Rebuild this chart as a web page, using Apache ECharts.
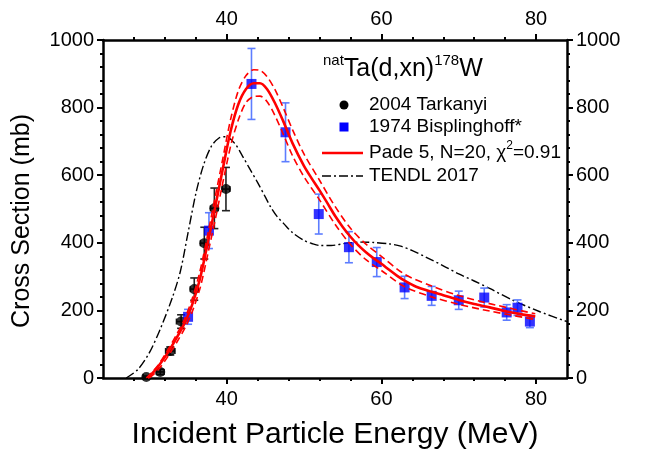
<!DOCTYPE html>
<html>
<head>
<meta charset="utf-8">
<script src="https://cdn.jsdelivr.net/npm/echarts@6/dist/echarts.min.js"></script>
<style>
html, body { margin: 0; padding: 0; background: #fff; }
#chart { width: 646px; height: 455px; }
</style>
</head>
<body>
<div id="chart"></div>
<script>
// values
const tarkX = [29.6, 31.4, 32.7, 34.1, 35.8, 37.1, 38.4, 39.9]
const tarkY = [3, 18, 80, 167, 263, 399, 502, 559]
const tarkErr = [3, 8, 12, 20, 33, 47, 60, 64]
const tarkXErr = [0.4, 0.5, 0.6, 0.6, 0.5, 0.5, 0.5, 0.5]

const bispX = [35.0, 37.7, 43.2, 47.6, 51.9, 55.8, 59.4, 63.0, 66.5, 70.0, 73.3, 76.2, 77.6, 79.2]
const bispY = [181, 436, 870, 727, 485, 387, 343, 268, 243, 230, 238, 194, 208, 167]
const bispErr = [22, 53, 105, 87, 59, 46, 43, 33, 28, 27, 28, 23, 23, 18]

// Pade fit and its uncertainty band
const fitX = [29.8, 31.0, 32.3, 33.5, 34.5, 35.5, 36.5, 37.5, 38.5, 39.5, 40.5, 41.5, 42.5, 43.5, 44.3, 45.2, 46.2, 47.3, 48.5, 50, 51, 52, 53, 54, 55, 56, 57, 58, 59, 60, 61, 62, 63, 64.5, 66.5, 68, 70, 72, 74, 76.2, 78, 79.9]
const fitY = [0, 30, 72, 118, 160, 215, 290, 395, 505, 620, 730, 810, 855, 872, 872, 855, 815, 760, 695, 627, 590, 555, 518, 480, 447, 418, 393, 372, 354, 338, 320, 303, 288, 270, 255, 245, 231, 219, 209, 197, 189, 182]

const upX = [29.6, 31, 32.3, 33.5, 34.5, 35.5, 36.5, 37.5, 38.5, 39.5, 40.5, 41.5, 42.5, 43.5, 44.3, 45.2, 46.2, 47.3, 48.5, 50, 52, 54, 56, 58, 60, 63, 66.5, 70, 74, 79.9]
const upY = [0, 34, 80, 128, 172, 232, 312, 420, 535, 650, 765, 850, 895, 912, 910, 892, 855, 800, 735, 662, 585, 508, 443, 396, 360, 307, 272, 244, 220, 190]
const loX = [30.0, 31.2, 32.4, 33.6, 34.6, 35.6, 36.6, 37.6, 38.6, 39.6, 40.6, 41.6, 42.5, 43.5, 44.3, 45.2, 46.2, 47.3, 48.5, 50, 52, 54, 56, 58, 60, 63, 66.5, 70, 74, 79.9]
const loY = [0, 26, 64, 108, 148, 200, 270, 372, 478, 590, 695, 770, 815, 833, 834, 818, 778, 722, 658, 595, 527, 455, 395, 350, 318, 270, 240, 218, 198, 173]

const tendlX = [27, 28.5, 30, 31.5, 33, 34, 35, 36, 37, 38, 39, 39.9, 41, 42, 43, 44, 45, 45.7, 46.5, 47.4, 48.5, 50, 51, 52.1, 53.5, 55.5, 57.5, 59, 61, 62.5, 64, 66, 68, 70, 72, 74, 77, 80.5, 84]
const tendlY = [0, 25, 75, 150, 240, 315, 430, 545, 630, 685, 710, 714, 695, 658, 618, 578, 535, 505, 478, 456, 430, 407, 398, 392, 392, 399, 402, 401, 397, 390, 377, 355, 332, 308, 287, 265, 230, 196, 167]

const xMajor = [40, 60, 80]
const xMinor = [28, 32, 36, 44, 48, 52, 56, 64, 68, 72, 76]

const FONT = '"Liberation Sans", Arial, sans-serif'
const pairs = (xs, ys) => xs.map((x, i) => [x, ys[i]])

const chart = echarts.init(document.getElementById('chart'))

function xAxisCfg(position, major) {
  return {
    type: 'value', position, min: 24, max: 84, interval: 4,
    axisLine: { show: major, onZero: false, lineStyle: { color: '#000', width: 2.5 } },
    axisTick: {
      customValues: major ? xMajor : xMinor,
      length: major ? 6 : 3,
      lineStyle: { color: '#000', width: 2 }
    },
    axisLabel: major
      ? { customValues: xMajor, color: '#000', fontSize: 20, fontFamily: FONT, margin: 11 }
      : { show: false },
    splitLine: { show: false }
  }
}

function yAxisCfg(position) {
  return {
    type: 'value', position, min: 0, max: 1000, interval: 200,
    axisLine: { show: true, onZero: false, lineStyle: { color: '#000', width: 2.5 } },
    axisTick: { length: 6, lineStyle: { color: '#000', width: 2 } },
    minorTick: { show: true, splitNumber: 5, length: 3, lineStyle: { color: '#000', width: 2 } },
    axisLabel: { color: '#000', fontSize: 20, fontFamily: FONT, margin: 9, formatter: v => String(v) },
    splitLine: { show: false },
    minorSplitLine: { show: false }
  }
}

function errorBars(xs, ys, errs, xerrs, color, cap) {
  return {
    type: 'custom',
    z: 3,
    silent: true,
    renderItem(params, api) {
      const x = api.value(0), y = api.value(1), e = api.value(2), ex = api.value(3)
      const top = api.coord([x, y + e])
      const bot = api.coord([x, y - e])
      const style = { stroke: color, lineWidth: 1.6 }
      const children = [
        { type: 'line', shape: { x1: top[0], y1: top[1], x2: bot[0], y2: bot[1] }, style },
        { type: 'line', shape: { x1: top[0] - cap, y1: top[1], x2: top[0] + cap, y2: top[1] }, style },
        { type: 'line', shape: { x1: bot[0] - cap, y1: bot[1], x2: bot[0] + cap, y2: bot[1] }, style }
      ]
      if (ex > 0) {
        const l = api.coord([x - ex, y])
        const r = api.coord([x + ex, y])
        children.push(
          { type: 'line', shape: { x1: l[0], y1: l[1], x2: r[0], y2: r[1] }, style },
          { type: 'line', shape: { x1: l[0], y1: l[1] - 3, x2: l[0], y2: l[1] + 3 }, style },
          { type: 'line', shape: { x1: r[0], y1: r[1] - 3, x2: r[0], y2: r[1] + 3 }, style }
        )
      }
      return { type: 'group', children }
    },
    data: xs.map((x, i) => [x, ys[i], errs[i], xerrs ? xerrs[i] : 0])
  }
}

const lineBase = { type: 'line', showSymbol: false, symbol: 'none', silent: true, smooth: 0.3 }

const option = {
  animation: false,
  grid: { left: 103, right: 79, top: 40, bottom: 75 },
  xAxis: [
    Object.assign(xAxisCfg('bottom', true), {
      name: 'Incident Particle Energy (MeV)', nameLocation: 'middle', nameGap: 42,
      nameTextStyle: { color: '#000', fontSize: 30, fontFamily: FONT }
    }),
    xAxisCfg('bottom', false),
    xAxisCfg('top', true),
    xAxisCfg('top', false)
  ],
  yAxis: [
    Object.assign(yAxisCfg('left'), {
      name: 'Cross Section (mb)', nameLocation: 'middle', nameGap: 68,
      nameTextStyle: { color: '#000', fontSize: 25, fontFamily: FONT, padding: [0, 24, 0, 0] }
    }),
    yAxisCfg('right')
  ],
  series: [
    Object.assign({}, lineBase, {
      name: 'TENDL 2017', data: pairs(tendlX, tendlY), z: 2,
      lineStyle: { color: '#000', width: 1.4, type: [9, 3, 2, 3] }
    }),
    errorBars(tarkX, tarkY, tarkErr, tarkXErr, '#222', 4),
    errorBars(bispX, bispY, bispErr, null, '#5d7dff', 4),
    {
      name: '2004 Tarkanyi', type: 'scatter', symbol: 'circle', symbolSize: 10, z: 4,
      itemStyle: { color: '#000' }, data: pairs(tarkX, tarkY)
    },
    {
      name: '1974 Bisplinghoff*', type: 'scatter', symbol: 'rect', symbolSize: 10, z: 4,
      itemStyle: { color: '#0000ff' }, data: pairs(bispX, bispY)
    },
    Object.assign({}, lineBase, {
      name: 'upper', data: pairs(upX, upY), z: 5,
      lineStyle: { color: '#ff0000', width: 1.6, type: [7, 4] }
    }),
    Object.assign({}, lineBase, {
      name: 'lower', data: pairs(loX, loY), z: 5,
      lineStyle: { color: '#ff0000', width: 1.6, type: [7, 4] }
    }),
    Object.assign({}, lineBase, {
      name: 'Pade 5, N=20, χ2=0.91', data: pairs(fitX, fitY), z: 6,
      lineStyle: { color: '#ff0000', width: 2.6 }
    })
  ],
  graphic: [
    {
      type: 'text', left: 323, top: 53, z: 10,
      style: {
        text: '{s|nat}{b|Ta(d,xn)}{s|178}{b|W}',
        rich: {
          b: { fontSize: 25, fontFamily: FONT, fill: '#000', lineHeight: 32 },
          s: { fontSize: 15, fontFamily: FONT, fill: '#000', lineHeight: 15, verticalAlign: 'top' }
        }
      }
    },
    { type: 'circle', shape: { cx: 344, cy: 105, r: 4.5 }, style: { fill: '#000' }, z: 10 },
    { type: 'text', left: 369, top: 95, z: 10, style: { text: '2004 Tarkanyi', font: '19px ' + FONT, fill: '#000' } },
    { type: 'rect', shape: { x: 339.5, y: 122.5, width: 9, height: 9 }, style: { fill: '#0000ff' }, z: 10 },
    { type: 'text', left: 369, top: 117, z: 10, style: { text: '1974 Bisplinghoff*', font: '19px ' + FONT, fill: '#000' } },
    { type: 'line', shape: { x1: 322, y1: 153, x2: 363, y2: 153 }, style: { stroke: '#ff0000', lineWidth: 2.6 }, z: 10 },
    {
      type: 'text', left: 369, top: 140, z: 10,
      style: {
        text: '{b|Pade 5, N=20, χ}{s|2}{b|=0.91}',
        rich: {
          b: { fontSize: 19, fontFamily: FONT, fill: '#000', lineHeight: 25 },
          s: { fontSize: 12, fontFamily: FONT, fill: '#000', lineHeight: 12, verticalAlign: 'top' }
        }
      }
    },
    { type: 'line', shape: { x1: 322, y1: 176, x2: 363, y2: 176 }, style: { stroke: '#000', lineWidth: 1.4, lineDash: [9, 3, 2, 3] }, z: 10 },
    { type: 'text', left: 369, top: 166, z: 10, style: { text: 'TENDL 2017', font: '19px ' + FONT, fill: '#000' } }
  ]
}

chart.setOption(option)
window.addEventListener('resize', () => chart.resize())
</script>
</body>
</html>
